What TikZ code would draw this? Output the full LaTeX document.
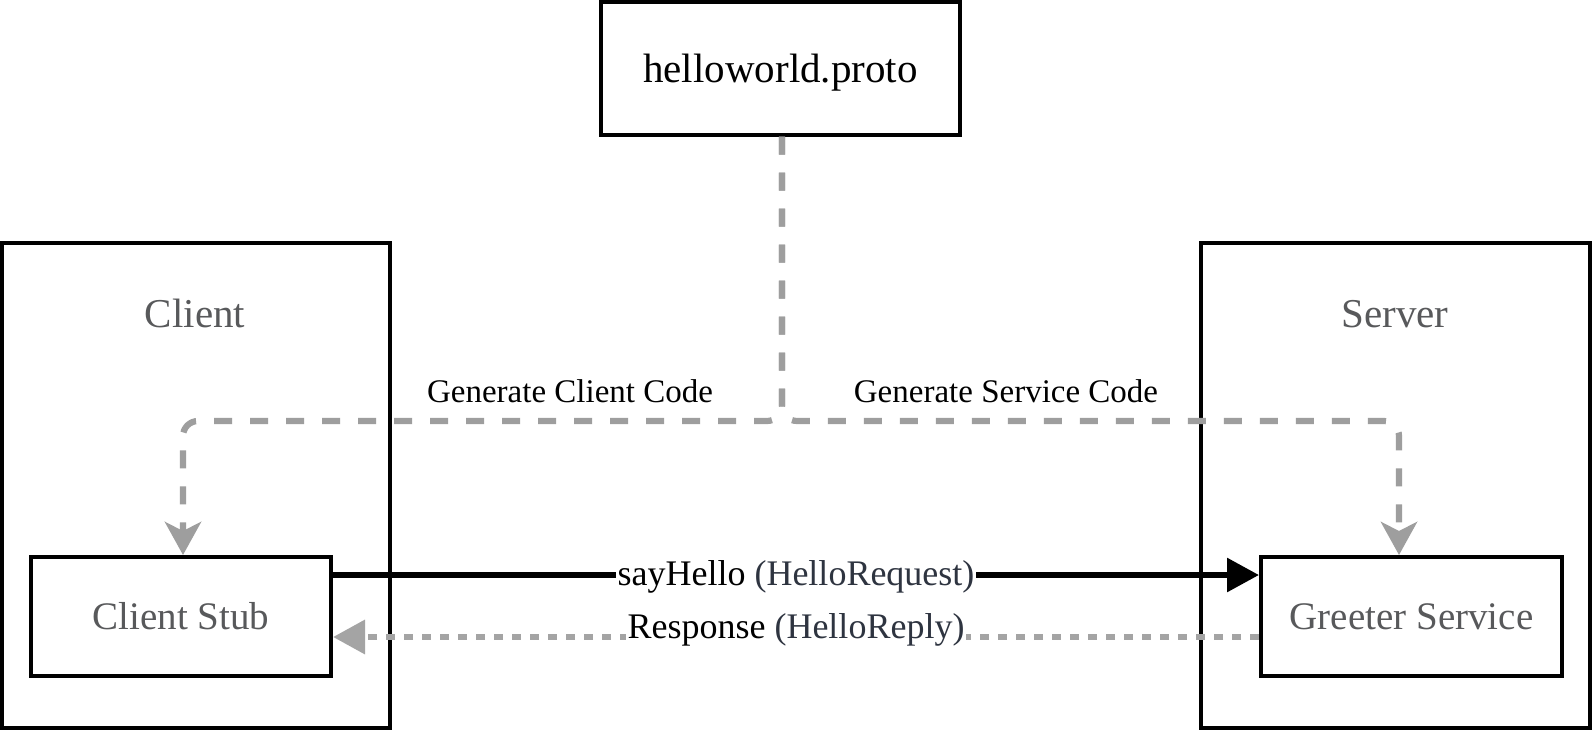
\documentclass[tikz,border=0pt]{standalone}
\usepackage{fontspec}
\setmainfont{Liberation Serif}
\usetikzlibrary{arrows.meta}
\definecolor{txtgray}{HTML}{58595B}
\definecolor{pargray}{HTML}{2E3440}
\definecolor{dashgray}{HTML}{9E9E9E}
\definecolor{dotgray}{HTML}{A4A4A4}
\newcommand{\fsz}[1]{\fontsize{#1}{#1}\selectfont}
\tikzset{
  box/.style={draw=black, line width=4pt, inner sep=0pt, fill=white},
  gen/.style={draw=dashgray, line width=6.2pt, dash pattern=on 18pt off 18pt,
    rounded corners=15pt, -{Stealth[length=33pt,width=36pt,inset=9pt]}},
  req/.style={draw=black, line width=6pt, -{Triangle[length=32pt,width=33pt]}},
  rep/.style={draw=dotgray, line width=6.5pt, dash pattern=on 9pt off 9pt,
    -{Triangle[length=32pt,width=33pt]}},
  lbl/.style={fill=white, inner sep=2pt},
}
\begin{document}
\begin{tikzpicture}[x=1pt,y=-1pt]
\useasboundingbox (0,0) rectangle (1596,732);
% containers
\node[box, minimum width=388pt, minimum height=485pt] (client) at (196,485) {};
\node[box, minimum width=389pt, minimum height=485pt] (server) at (1395.5,485) {};
\node[anchor=base, text=txtgray] (clientlbl) at (195,327) {\fsz{41}Client};
\node[anchor=base, text=txtgray] (serverlbl) at (1395,327) {\fsz{41}Server};
% inner boxes
\node[box, minimum width=300pt, minimum height=119pt, text=txtgray] (stub) at (181,616.5) {\fsz{39}Client Stub};
\node[box, minimum width=301pt, minimum height=119pt, text=txtgray] (greeter) at (1411.5,616.5) {\fsz{39}Greeter Service};
\node[box, minimum width=359pt, minimum height=132.5pt, text depth=0pt] (proto) at (780.5,68.25) {\fsz{41}helloworld.proto};
% generation connectors
\coordinate (j) at (782,421);
\coordinate (cl) at (183,421);
\coordinate (sr) at (1399,421);
\draw[gen] (proto.south -| j) -- (j) -- (cl) -- (stub.north -| cl);
\draw[gen] (proto.south -| j) -- (j) -- (sr) -- (greeter.north -| sr);
\node[anchor=base] (genc) at (570,402) {\fsz{33}Generate Client Code};
\node[anchor=base] (gens) at (1006,402) {\fsz{33}Generate Service Code};
% request / reply
\coordinate (reqy) at (0,575);
\coordinate (repy) at (0,637);
\draw[req] (stub.east |- reqy) -- (greeter.west |- reqy);
\draw[rep] (greeter.west |- repy) -- (stub.east |- repy);
\node[lbl, anchor=base] (reqlbl) at (796,585) {\fsz{36}sayHello \textcolor{pargray}{(HelloRequest)}};
\node[lbl, anchor=base] (replbl) at (796,638) {\fsz{36}Response \textcolor{pargray}{(HelloReply)}};
\end{tikzpicture}
\end{document}
